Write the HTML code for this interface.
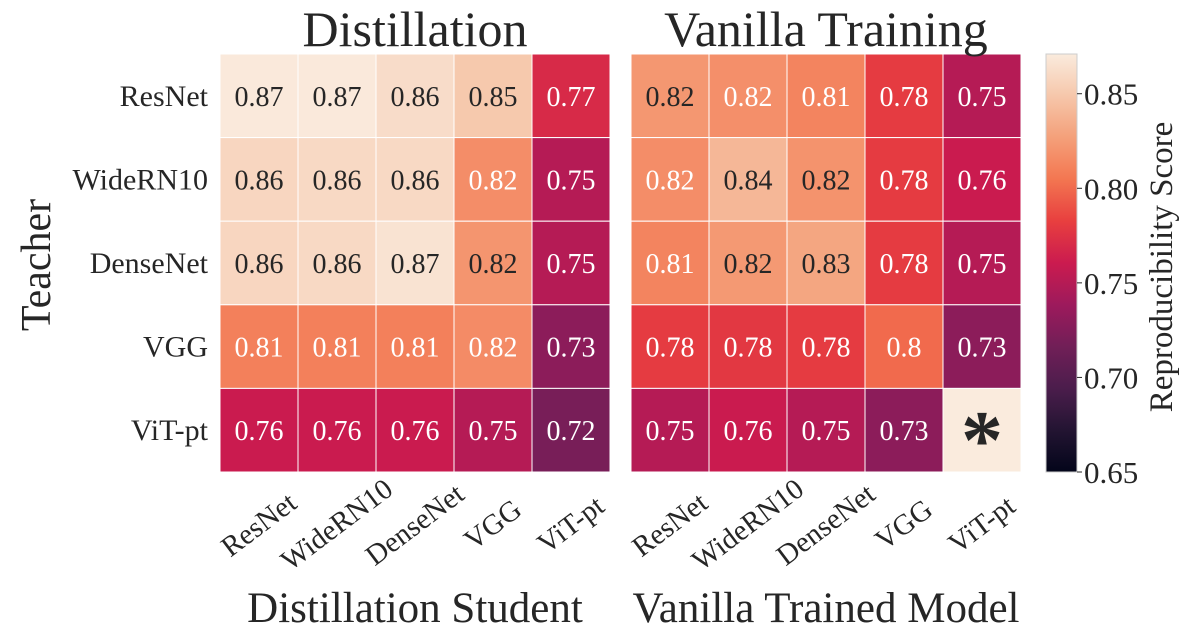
<!DOCTYPE html>
<html><head><meta charset="utf-8"><style>
html,body{margin:0;padding:0;background:#fff;}
svg{display:block;font-family:"Liberation Serif",serif;}
</style></head><body>
<svg id="chart" width="1186" height="641" viewBox="0 0 1186 641" xmlns="http://www.w3.org/2000/svg">
<defs>
<linearGradient id="cbgrad" x1="0" y1="1" x2="0" y2="0"></linearGradient>
</defs>
<g id="plot"></g>
</svg>
<script>
const rowLabels = ["ResNet","WideRN10","DenseNet","VGG","ViT-pt"];
const colLabels = ["ResNet","WideRN10","DenseNet","VGG","ViT-pt"];
const distillValues = [
  [0.870,0.870,0.862,0.850,0.770],
  [0.858,0.860,0.860,0.817,0.750],
  [0.858,0.860,0.866,0.821,0.750],
  [0.810,0.810,0.810,0.816,0.730],
  [0.760,0.760,0.760,0.750,0.720]
];
const vanillaValues = [
  [0.822,0.818,0.812,0.780,0.750],
  [0.817,0.840,0.820,0.780,0.760],
  [0.812,0.823,0.830,0.780,0.750],
  [0.780,0.778,0.780,0.800,0.730],
  [0.750,0.760,0.750,0.730,null]
];
const colorbarTicks = [0.65,0.70,0.75,0.80,0.85];
const vmin = 0.65, vmax = 0.871;

const stops = [[0,"#03051a"],[0.1,"#231432"],[0.2,"#4b1d4c"],[0.3,"#711f57"],[0.4,"#9d1a5c"],[0.5,"#cb1b4f"],[0.6,"#e83f3f"],[0.7,"#f37651"],[0.8,"#f4a07a"],[0.9,"#f6c7ab"],[1,"#faebdd"]];
function hex(h){return [1,3,5].map(i=>parseInt(h.substr(i,2),16));}
function cmap(v){
  let t=Math.max(0,Math.min(1,(v-vmin)/(vmax-vmin)));
  for(let i=1;i<stops.length;i++){
    if(t<=stops[i][0]){
      const a=stops[i-1],b=stops[i];const f=(t-a[0])/(b[0]-a[0]);
      const ca=hex(a[1]),cb=hex(b[1]);
      return "rgb("+ca.map((c,k)=>Math.round(c+(cb[k]-c)*f)).join(",")+")";
    }
  }
  return stops[stops.length-1][1];
}
const NS="http://www.w3.org/2000/svg";
const plot=document.getElementById("plot");
function mk(tag,attrs,parent,text){
  const e=document.createElementNS(NS,tag);
  for(const k in attrs)e.setAttribute(k,attrs[k]);
  if(text!==undefined)e.textContent=text;
  (parent||plot).appendChild(e);return e;
}
const top0=54, cellH=83.6, cellW=78;
const panels=[{x0:220,vals:distillValues,title:"Distillation",xlab:"Distillation Student",key:"distillation"},
              {x0:631,vals:vanillaValues,title:"Vanilla Training",xlab:"Vanilla Trained Model",key:"vanilla"}];
function xs(p,j){return p.x0+j*cellW;}
function ys(i){return top0+i*cellH;}

panels.forEach((p,pi)=>{
  const g=mk("g",{});
  
  
  p.vals.forEach((row,i)=>row.forEach((v,j)=>{
    const val = v===null ? vmax : v;
    const r=mk("rect",{x:xs(p,j),y:ys(i),width:cellW,height:cellH,fill:cmap(val),stroke:"#fff","stroke-width":1},g);
    
    
    const dark = v===null || v>=0.819;
    const lbl = v===null ? "*" : String(Math.round(v*100)/100);
    const t=mk("text",{x:xs(p,j)+cellW/2,y:ys(i)+cellH/2+(v===null?38:10),"text-anchor":"middle","font-size":v===null?84:28,fill:dark?"#262626":"#fff","font-weight":v===null?"bold":"normal"},g,lbl);
    
    
  }));
  const tt=mk("text",{x:p.x0+cellW*2.5,y:46,"text-anchor":"middle","font-size":50,fill:"#262626"},g,p.title);
  
  
  colLabels.forEach((c,j)=>{
    const cx=xs(p,j)+cellW/2, cy=525;
    const t=mk("text",{x:cx,y:cy+9,"text-anchor":"middle","font-size":29,fill:"#262626",transform:"rotate(-37 "+cx+" "+cy+")"},g,c);
    
    
  });
  const xl=mk("text",{x:p.x0+cellW*2.5,y:622,"text-anchor":"middle","font-size":43,fill:"#262626"},g,p.xlab);
  
  
});
rowLabels.forEach((r,i)=>{
  const t=mk("text",{x:208,y:ys(i)+cellH/2+10,"text-anchor":"end","font-size":30,fill:"#262626"},plot,r);
  
  
});
const yt=mk("text",{x:0,y:0,"text-anchor":"middle","font-size":42,fill:"#262626",transform:"translate(50 265) rotate(-90)"},plot,"Teacher");



// colorbar
const grad=document.getElementById("cbgrad");
for(let k=0;k<=20;k++){
  const v=vmin+(vmax-vmin)*k/20;
  mk("stop",{offset:(k/20),"stop-color":cmap(v)},grad);
}
const cbX=1046, cbW=31, cbTop=54, cbBot=472;
function cbY(v){return cbBot-(v-vmin)/(vmax-vmin)*(cbBot-cbTop);}
const cb=mk("rect",{x:cbX,y:cbTop,width:cbW,height:cbBot-cbTop,fill:"url(#cbgrad)",stroke:"#ccc","stroke-width":1});


colorbarTicks.forEach((v,k)=>{
  const y=cbY(v);
  const l=mk("line",{x1:cbX+cbW,x2:cbX+cbW+5,y1:y,y2:y,stroke:"#262626","stroke-width":1});
  
  
  const t=mk("text",{x:cbX+cbW+7,y:y+11,"font-size":31,fill:"#262626"},plot,v.toFixed(2));
  
  
});
const cbt=mk("text",{x:0,y:0,"text-anchor":"middle","font-size":33,fill:"#262626",transform:"translate(1172 267) rotate(-90)"},plot,"Reproducibility Score");


</script>
</body></html>
